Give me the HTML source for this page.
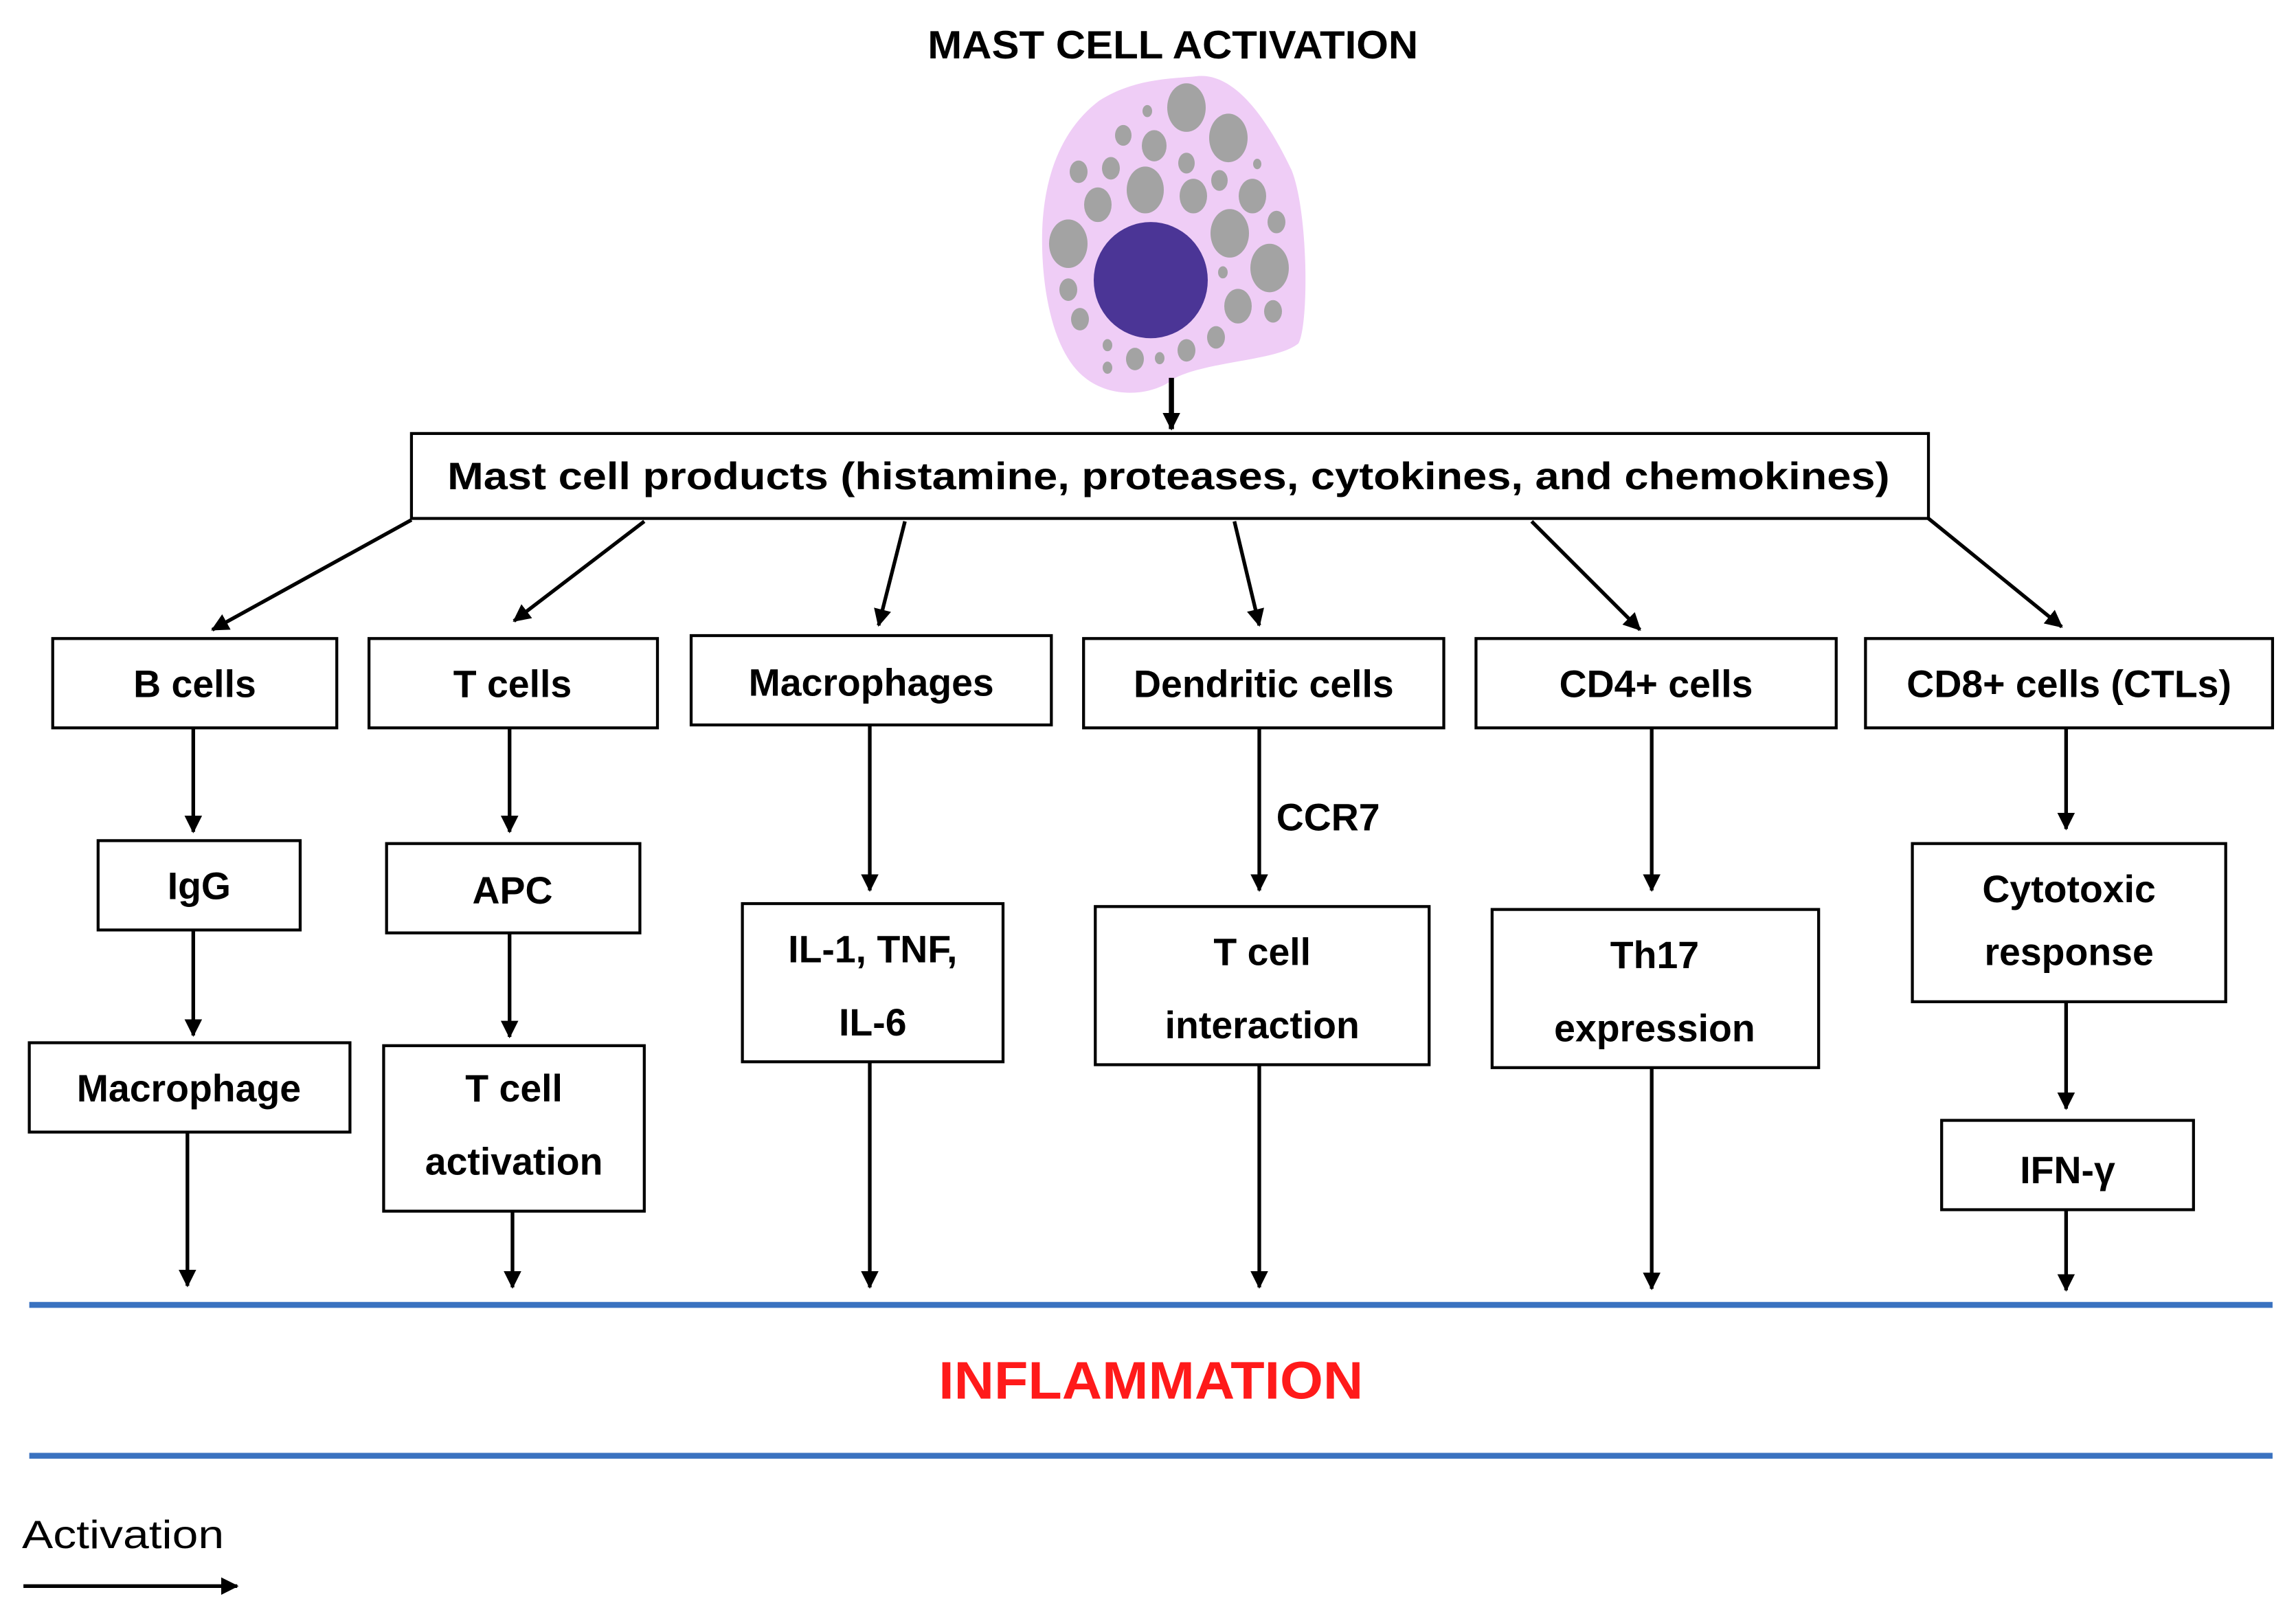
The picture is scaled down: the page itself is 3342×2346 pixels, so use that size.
<!DOCTYPE html>
<html><head><meta charset="utf-8"><style>
html,body{margin:0;padding:0;background:#fff;}
svg{display:block;}
text{font-family:"Liberation Sans",sans-serif;font-weight:bold;fill:#000;}
</style></head><body>
<svg width="3342" height="2346" viewBox="0 0 1568 1100.7" preserveAspectRatio="none" xmlns="http://www.w3.org/2000/svg">
<defs>
<marker id="ah" markerWidth="12" markerHeight="12" refX="11" refY="6" orient="auto" markerUnits="userSpaceOnUse">
<path d="M0,0 L12,6 L0,12 Z" fill="#000"/>
</marker>
</defs>
<rect width="1568" height="1101" fill="#fff"/>
<text x="801" y="40" font-size="27" text-anchor="middle" textLength="335" lengthAdjust="spacingAndGlyphs">MAST CELL ACTIVATION</text>

<g transform="matrix(0.46918,0,0,0.592,0,-2.3)">
<path d="M1740,92 C1800,85 1850,150 1880,200 C1905,250 1905,380 1890,400 C1860,420 1760,420 1710,440 C1680,460 1620,465 1580,440 C1530,410 1515,330 1517,270 C1520,200 1550,150 1600,120 C1650,95 1700,95 1740,92 Z" fill="#efcdf6"/>
<g fill="#a3a3a3">
<circle cx="1727" cy="128" r="28"/><circle cx="1670" cy="132" r="7"/><circle cx="1635" cy="160" r="12"/>
<circle cx="1680" cy="172" r="18"/><circle cx="1788" cy="163" r="28"/><circle cx="1727" cy="192" r="12"/>
<circle cx="1830" cy="193" r="6"/><circle cx="1570" cy="202" r="13"/><circle cx="1617" cy="198" r="13"/>
<circle cx="1667" cy="223" r="27"/><circle cx="1737" cy="230" r="20"/><circle cx="1775" cy="212" r="12"/>
<circle cx="1823" cy="230" r="20"/><circle cx="1598" cy="240" r="20"/><circle cx="1858" cy="260" r="13"/>
<circle cx="1790" cy="273" r="28"/><circle cx="1555" cy="285" r="28"/><circle cx="1848" cy="313" r="28"/>
<circle cx="1780" cy="318" r="7"/><circle cx="1555" cy="338" r="13"/><circle cx="1802" cy="357" r="20"/>
<circle cx="1853" cy="363" r="13"/><circle cx="1572" cy="372" r="13"/><circle cx="1770" cy="393" r="13"/>
<circle cx="1727" cy="408" r="13"/><circle cx="1652" cy="418" r="13"/><circle cx="1612" cy="402" r="7"/>
<circle cx="1612" cy="428" r="7"/><circle cx="1688" cy="417" r="7"/>
</g>
<ellipse cx="1675" cy="327" rx="83" ry="67" fill="#4b3596"/>
</g>

<g stroke="#000" stroke-width="2.5" fill="none">
<line x1="800" y1="258" x2="800" y2="293" stroke-width="3.5" marker-end="url(#ah)"/>
<rect x="281" y="296" width="1036" height="58" stroke-width="2"/>
<line x1="281" y1="355" x2="145" y2="430" marker-end="url(#ah)"/>
<line x1="440" y1="356" x2="351" y2="424" marker-end="url(#ah)"/>
<line x1="618" y1="356" x2="600" y2="427" marker-end="url(#ah)"/>
<line x1="843" y1="356" x2="860" y2="427" marker-end="url(#ah)"/>
<line x1="1046" y1="356" x2="1120" y2="430" marker-end="url(#ah)"/>
<line x1="1317" y1="354" x2="1408" y2="428" marker-end="url(#ah)"/>

<g stroke-width="2">
<rect x="36" y="436" width="194" height="61"/>
<rect x="252" y="436" width="197" height="61"/>
<rect x="472" y="434" width="246" height="61"/>
<rect x="740" y="436" width="246" height="61"/>
<rect x="1008" y="436" width="246" height="61"/>
<rect x="1274" y="436" width="278" height="61"/>
<rect x="67" y="574" width="138" height="61"/>
<rect x="20" y="712" width="219" height="61"/>
<rect x="264" y="576" width="173" height="61"/>
<rect x="262" y="714" width="178" height="113"/>
<rect x="507" y="617" width="178" height="108"/>
<rect x="748" y="619" width="228" height="108"/>
<rect x="1019" y="621" width="223" height="108"/>
<rect x="1306" y="576" width="214" height="108"/>
<rect x="1326" y="765" width="172" height="61"/>
</g>

<line x1="132" y1="497" x2="132" y2="568" marker-end="url(#ah)"/>
<line x1="132" y1="635" x2="132" y2="707" marker-end="url(#ah)"/>
<line x1="128" y1="773" x2="128" y2="878" marker-end="url(#ah)"/>
<line x1="348" y1="497" x2="348" y2="568" marker-end="url(#ah)"/>
<line x1="348" y1="637" x2="348" y2="708" marker-end="url(#ah)"/>
<line x1="350" y1="827" x2="350" y2="879" marker-end="url(#ah)"/>
<line x1="594" y1="495" x2="594" y2="608" marker-end="url(#ah)"/>
<line x1="594" y1="725" x2="594" y2="879" marker-end="url(#ah)"/>
<line x1="860" y1="497" x2="860" y2="608" marker-end="url(#ah)"/>
<line x1="860" y1="727" x2="860" y2="879" marker-end="url(#ah)"/>
<line x1="1128" y1="497" x2="1128" y2="608" marker-end="url(#ah)"/>
<line x1="1128" y1="729" x2="1128" y2="880" marker-end="url(#ah)"/>
<line x1="1411" y1="497" x2="1411" y2="566" marker-end="url(#ah)"/>
<line x1="1411" y1="684" x2="1411" y2="757" marker-end="url(#ah)"/>
<line x1="1411" y1="826" x2="1411" y2="881" marker-end="url(#ah)"/>
<line x1="16" y1="1083" x2="162" y2="1083" marker-end="url(#ah)"/>
</g>

<line x1="20" y1="891" x2="1552" y2="891" stroke="#3a72c0" stroke-width="4"/>
<line x1="20" y1="994" x2="1552" y2="994" stroke="#3a72c0" stroke-width="4"/>

<g font-size="26" text-anchor="middle">
<text x="798" y="334" textLength="985" lengthAdjust="spacingAndGlyphs">Mast cell products (histamine, proteases, cytokines, and chemokines)</text>
<text x="133" y="476">B cells</text>
<text x="350" y="476">T cells</text>
<text x="595" y="475">Macrophages</text>
<text x="863" y="476">Dendritic cells</text>
<text x="1131" y="476">CD4+ cells</text>
<text x="1413" y="476">CD8+ cells (CTLs)</text>
<text x="136" y="614">IgG</text>
<text x="129" y="752">Macrophage</text>
<text x="350" y="617">APC</text>
<text x="351" y="752">T cell</text>
<text x="351" y="802">activation</text>
<text x="596" y="657">IL-1, TNF,</text>
<text x="596" y="707">IL-6</text>
<text x="862" y="659">T cell</text>
<text x="862" y="709">interaction</text>
<text x="1130" y="661">Th17</text>
<text x="1130" y="711">expression</text>
<text x="1413" y="616">Cytotoxic</text>
<text x="1413" y="659">response</text>
<text x="1412" y="808">IFN-γ</text>
<text x="907" y="567">CCR7</text>
</g>
<text x="786" y="955" font-size="36" text-anchor="middle" style="fill:#ff1a1a" textLength="290" lengthAdjust="spacingAndGlyphs">INFLAMMATION</text>
<text x="15" y="1057" font-size="27" style="font-weight:normal" textLength="138" lengthAdjust="spacingAndGlyphs">Activation</text>
</svg>
</body></html>
